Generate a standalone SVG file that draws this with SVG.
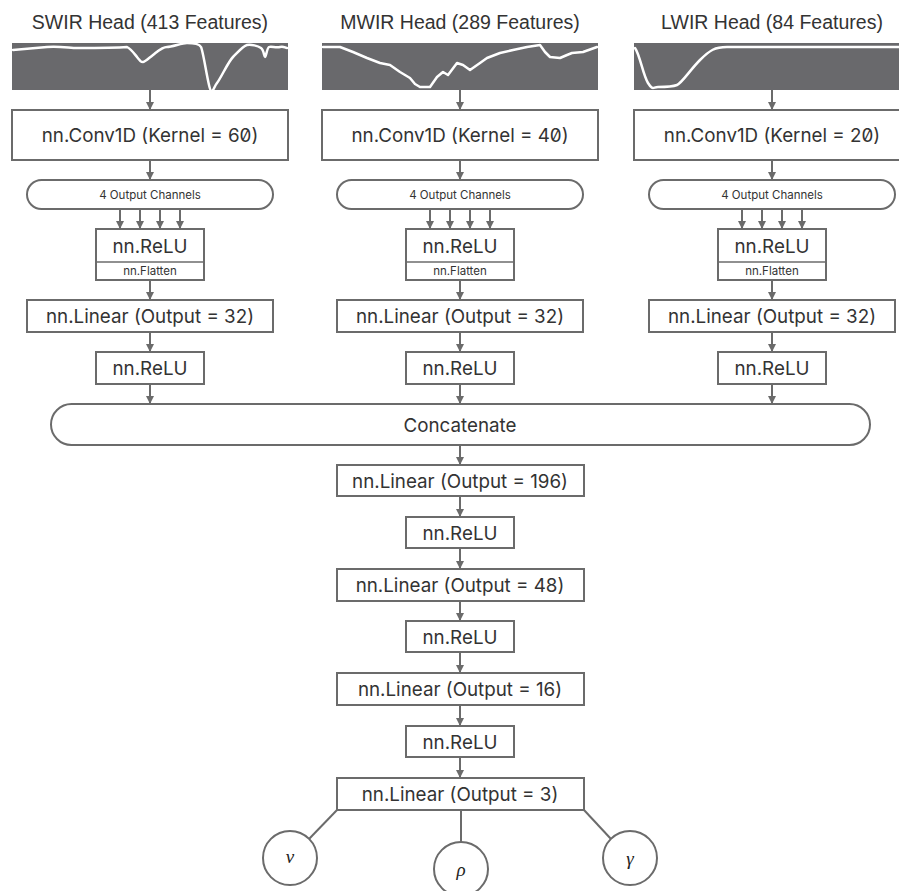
<svg xmlns="http://www.w3.org/2000/svg" width="899" height="891" viewBox="0 0 899 891">
<defs>
<marker id="ah" viewBox="0 0 10 10" refX="10" refY="5" markerWidth="8" markerHeight="8" markerUnits="userSpaceOnUse" orient="auto">
<path d="M0,0 L10,5 L0,10 z" fill="#6b6b6b"/>
</marker>
<style>
.box{fill:#fff;stroke:#6b6b6b;stroke-width:2}
.spec{fill:#69696c}
.curve{fill:none;stroke:#fff;stroke-width:2.5;stroke-linejoin:round;stroke-linecap:round}
.title{font-family:"Liberation Sans",Arial,sans-serif;font-size:19.5px;fill:#333;text-anchor:middle}
.lbl{font-family:Inter,"Liberation Sans",sans-serif;font-size:18.8px;fill:#333;text-anchor:middle;dominant-baseline:central}
.zero{font-feature-settings:"zero" 1}
.sm{font-family:Inter,"Liberation Sans",sans-serif;font-size:11.5px;fill:#333;text-anchor:middle;dominant-baseline:central}
.greek{font-family:"Liberation Serif","DejaVu Serif",serif;font-style:italic;font-size:19px;fill:#222;text-anchor:middle;dominant-baseline:central}
.conn line,.conn path{stroke:#6b6b6b;stroke-width:2;fill:none}
.arr{marker-end:url(#ah)}
</style>
</defs>
<rect width="899" height="891" fill="#fff"/>

<!-- SWIR head -->
<g id="swir-title"><text class="title" x="150" y="29">SWIR Head (413 Features)</text></g>
<g id="swir-spectrum">
<rect class="spec" x="12" y="43" width="276" height="47"/>
<path class="curve" d="M13,50 C25,49 35,48 47,47 S70,48 77,48 S115,48 127,47 C131,49 133,52 137,57 S141,62 143,62 S149,58 153,55 S162,47 167,47 S182,43 187,43 S199,43 201,47 S206,72 209,85 S213,88 217,83 S228,62 233,57 S243,46 247,45 S258,46 261,48 S264,57 265,57 S267,48 269,47 S276,48 280,47 S285,48 287,48"/>
</g>
<g id="swir-conv"><rect class="box" x="12" y="110" width="276" height="50"/><text class="lbl zero" x="150" y="135">nn.Conv1D (Kernel = 60)</text></g>
<g id="swir-channels"><rect class="box" x="27" y="180" width="246" height="29" rx="14.5"/><text class="sm" x="150" y="195">4 Output Channels</text></g>
<g id="swir-relu1"><rect class="box" x="96" y="229" width="108" height="51"/><line x1="96" y1="262" x2="204" y2="262" stroke="#6b6b6b" stroke-width="1.5"/><text class="lbl" x="150" y="246">nn.ReLU</text><text class="sm" x="150" y="271">nn.Flatten</text></g>
<g id="swir-linear"><rect class="box" x="27" y="300" width="246" height="32"/><text class="lbl" x="150" y="316">nn.Linear (Output = 32)</text></g>
<g id="swir-relu2"><rect class="box" x="96" y="352" width="108" height="32"/><text class="lbl" x="150" y="368">nn.ReLU</text></g>

<!-- MWIR head -->
<g id="mwir-title"><text class="title" x="460" y="29">MWIR Head (289 Features)</text></g>
<g id="mwir-spectrum">
<rect class="spec" x="322" y="43" width="276" height="47"/>
<polyline class="curve" points="323,47 340,47 353,52 367,58 380,63 390,65 400,72 410,78 415,84 420,87 430,87 437,77 443,72 448,75 457,63 463,65 470,70 480,63 487,58 500,53 513,50 527,47 540,45 545,52 550,57 560,58 567,55 572,53 583,52 597,47"/>
</g>
<g id="mwir-conv"><rect class="box" x="322" y="110" width="276" height="50"/><text class="lbl zero" x="460" y="135">nn.Conv1D (Kernel = 40)</text></g>
<g id="mwir-channels"><rect class="box" x="337" y="180" width="246" height="29" rx="14.5"/><text class="sm" x="460" y="195">4 Output Channels</text></g>
<g id="mwir-relu1"><rect class="box" x="406" y="229" width="108" height="51"/><line x1="406" y1="262" x2="514" y2="262" stroke="#6b6b6b" stroke-width="1.5"/><text class="lbl" x="460" y="246">nn.ReLU</text><text class="sm" x="460" y="271">nn.Flatten</text></g>
<g id="mwir-linear"><rect class="box" x="337" y="300" width="246" height="32"/><text class="lbl" x="460" y="316">nn.Linear (Output = 32)</text></g>
<g id="mwir-relu2"><rect class="box" x="406" y="352" width="108" height="32"/><text class="lbl" x="460" y="368">nn.ReLU</text></g>

<!-- LWIR head -->
<g id="lwir-title"><text class="title" x="772" y="29">LWIR Head (84 Features)</text></g>
<g id="lwir-spectrum">
<rect class="spec" x="634" y="43" width="276" height="47"/>
<path class="curve" d="M635,48 C640,55 643,75 648,83 S653,87 658,87 S672,87 677,85 S690,70 700,60 S715,47 727,47 L905,47"/>
</g>
<g id="lwir-conv"><rect class="box" x="634" y="110" width="276" height="50"/><text class="lbl zero" x="772" y="135">nn.Conv1D (Kernel = 20)</text></g>
<g id="lwir-channels"><rect class="box" x="649" y="180" width="246" height="29" rx="14.5"/><text class="sm" x="772" y="195">4 Output Channels</text></g>
<g id="lwir-relu1"><rect class="box" x="718" y="229" width="108" height="51"/><line x1="718" y1="262" x2="826" y2="262" stroke="#6b6b6b" stroke-width="1.5"/><text class="lbl" x="772" y="246">nn.ReLU</text><text class="sm" x="772" y="271">nn.Flatten</text></g>
<g id="lwir-linear"><rect class="box" x="649" y="300" width="246" height="32"/><text class="lbl" x="772" y="316">nn.Linear (Output = 32)</text></g>
<g id="lwir-relu2"><rect class="box" x="718" y="352" width="108" height="32"/><text class="lbl" x="772" y="368">nn.ReLU</text></g>

<!-- Trunk -->
<g id="concat"><rect class="box" x="51" y="404" width="819" height="41" rx="20.5"/><text class="lbl" x="460" y="425">Concatenate</text></g>
<g id="linear196"><rect class="box" x="337" y="465" width="247" height="31"/><text class="lbl" x="460" y="481">nn.Linear (Output = 196)</text></g>
<g id="relu-a"><rect class="box" x="406" y="517" width="108" height="31"/><text class="lbl" x="460" y="533">nn.ReLU</text></g>
<g id="linear48"><rect class="box" x="337" y="569" width="247" height="32"/><text class="lbl" x="460" y="585">nn.Linear (Output = 48)</text></g>
<g id="relu-b"><rect class="box" x="406" y="621" width="108" height="31"/><text class="lbl" x="460" y="637">nn.ReLU</text></g>
<g id="linear16"><rect class="box" x="337" y="673" width="247" height="32"/><text class="lbl" x="460" y="689">nn.Linear (Output = 16)</text></g>
<g id="relu-c"><rect class="box" x="406" y="726" width="108" height="31"/><text class="lbl" x="460" y="742">nn.ReLU</text></g>
<g id="linear3"><rect class="box" x="337" y="778" width="247" height="32"/><text class="lbl" x="460" y="794">nn.Linear (Output = 3)</text></g>
<g id="out-nu"><circle class="box" cx="290" cy="858" r="27"/><text class="greek" x="290" y="856">ν</text></g>
<g id="out-rho"><circle class="box" cx="461" cy="869" r="27"/><text class="greek" x="461" y="869">ρ</text></g>
<g id="out-gamma"><circle class="box" cx="630" cy="858" r="27"/><text class="greek" x="630" y="858">γ</text></g>

<!-- Connectors -->
<g class="conn">
<line class="arr" x1="150" y1="90" x2="150" y2="110"/>
<line class="arr" x1="150" y1="160" x2="150" y2="180"/>
<line class="arr" x1="120" y1="209" x2="120" y2="229"/>
<line class="arr" x1="140" y1="209" x2="140" y2="229"/>
<line class="arr" x1="160" y1="209" x2="160" y2="229"/>
<line class="arr" x1="180" y1="209" x2="180" y2="229"/>
<line class="arr" x1="150" y1="280" x2="150" y2="300"/>
<line class="arr" x1="150" y1="332" x2="150" y2="352"/>
<line class="arr" x1="150" y1="384" x2="150" y2="404"/>

<line class="arr" x1="460" y1="90" x2="460" y2="110"/>
<line class="arr" x1="460" y1="160" x2="460" y2="180"/>
<line class="arr" x1="430" y1="209" x2="430" y2="229"/>
<line class="arr" x1="450" y1="209" x2="450" y2="229"/>
<line class="arr" x1="470" y1="209" x2="470" y2="229"/>
<line class="arr" x1="490" y1="209" x2="490" y2="229"/>
<line class="arr" x1="460" y1="280" x2="460" y2="300"/>
<line class="arr" x1="460" y1="332" x2="460" y2="352"/>
<line class="arr" x1="460" y1="384" x2="460" y2="404"/>

<line class="arr" x1="772" y1="90" x2="772" y2="110"/>
<line class="arr" x1="772" y1="160" x2="772" y2="180"/>
<line class="arr" x1="742" y1="209" x2="742" y2="229"/>
<line class="arr" x1="762" y1="209" x2="762" y2="229"/>
<line class="arr" x1="782" y1="209" x2="782" y2="229"/>
<line class="arr" x1="802" y1="209" x2="802" y2="229"/>
<line class="arr" x1="772" y1="280" x2="772" y2="300"/>
<line class="arr" x1="772" y1="332" x2="772" y2="352"/>
<line class="arr" x1="772" y1="384" x2="772" y2="404"/>

<line class="arr" x1="460" y1="445" x2="460" y2="465"/>
<line class="arr" x1="460" y1="496" x2="460" y2="517"/>
<line class="arr" x1="460" y1="548" x2="460" y2="569"/>
<line class="arr" x1="460" y1="601" x2="460" y2="621"/>
<line class="arr" x1="460" y1="652" x2="460" y2="673"/>
<line class="arr" x1="460" y1="705" x2="460" y2="726"/>
<line class="arr" x1="460" y1="757" x2="460" y2="778"/>

<line x1="337" y1="810" x2="309" y2="839"/>
<line x1="461" y1="810" x2="461" y2="842"/>
<line x1="584" y1="810" x2="611" y2="839"/>
</g>
</svg>
